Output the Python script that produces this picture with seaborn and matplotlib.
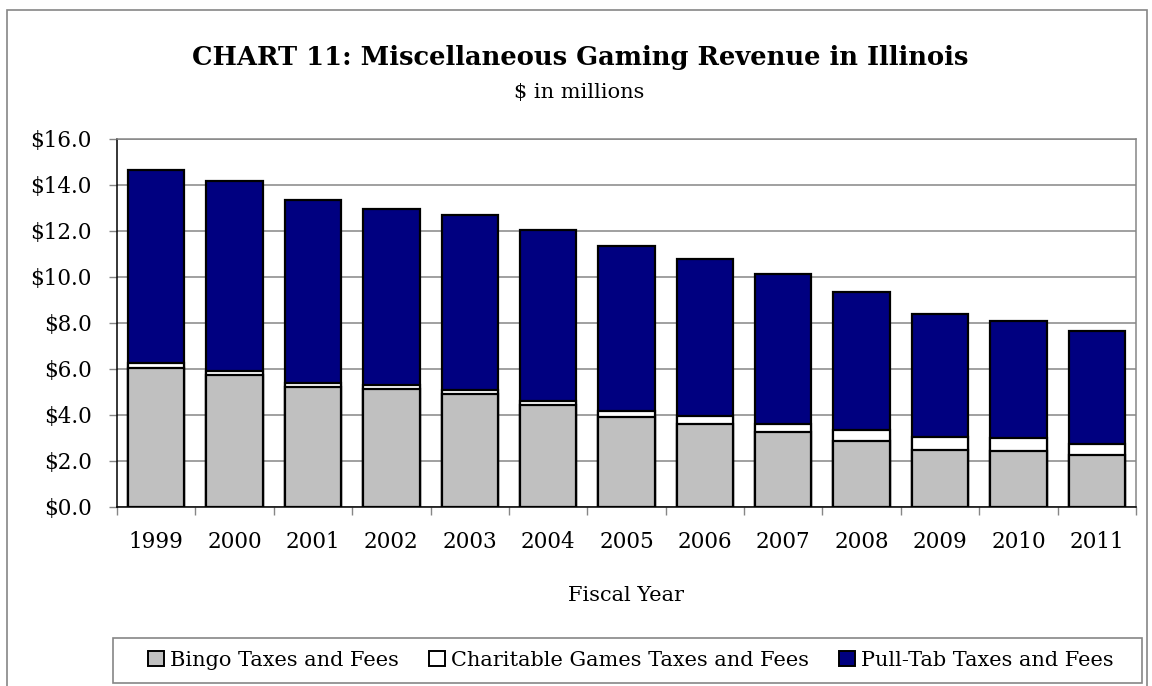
import matplotlib
matplotlib.use("Agg")
import matplotlib.pyplot as plt
from matplotlib.patches import Rectangle, Patch
from matplotlib.ticker import FixedLocator, FuncFormatter
import pandas as pd
import seaborn as sns

# Fiscal-year revenue, $ millions
years = ["1999", "2000", "2001", "2002", "2003", "2004", "2005",
         "2006", "2007", "2008", "2009", "2010", "2011"]
bingo = [6.06, 5.73, 5.21, 5.12, 4.91, 4.42, 3.90, 3.61, 3.25, 2.87, 2.49, 2.44, 2.26]
charitable = [0.20, 0.17, 0.17, 0.18, 0.16, 0.20, 0.28, 0.36, 0.36, 0.48, 0.55, 0.55, 0.47]
pull_tab = [8.40, 8.27, 7.97, 7.64, 7.61, 7.44, 7.17, 6.82, 6.53, 5.98, 5.35, 5.09, 4.94]

series_names = ["Bingo Taxes and Fees", "Charitable Games Taxes and Fees",
                "Pull-Tab Taxes and Fees"]
series_colors = ["#c0c0c0", "#ffffff", "#000080"]

df = pd.DataFrame({"year": years, "bingo": bingo,
                   "charitable": charitable, "pull_tab": pull_tab})
# cumulative heights for stacking (drawn tallest first)
df["lvl1"] = df["bingo"]
df["lvl2"] = df["bingo"] + df["charitable"]
df["lvl3"] = df["lvl2"] + df["pull_tab"]

sns.set_theme(style="white")
plt.rcParams["font.family"] = ["DejaVu Serif"]
plt.rcParams["text.color"] = "black"
plt.rcParams["xtick.color"] = "black"
plt.rcParams["ytick.color"] = "black"
plt.rcParams["axes.labelcolor"] = "black"

W, H = 1152, 686
fig = plt.figure(figsize=(W / 100, H / 100), dpi=100)

# outer chart border
fig.patches.append(Rectangle((7 / W, -0.02), (1147 - 7) / W, 1 - 10 / H + 0.02,
                             transform=fig.transFigure, fill=False,
                             edgecolor="#868686", linewidth=1.2))

left, right, top, bottom = 117, 1136, 139, 507
ax = fig.add_axes([left / W, 1 - bottom / H, (right - left) / W, (bottom - top) / H])

grid_gray = "#868686"
for col, color in zip(["lvl3", "lvl2", "lvl1"], series_colors[::-1]):
    sns.barplot(data=df, x="year", y=col, color=color, saturation=1, width=0.72,
                edgecolor="black", linewidth=1.6, ax=ax)

ax.set_ylim(0, 16)
ax.set_xlim(-0.5, len(years) - 0.5)
ax.yaxis.set_major_locator(FixedLocator([0, 2, 4, 6, 8, 10, 12, 14, 16]))
ax.yaxis.set_major_formatter(FuncFormatter(lambda v, p: f"${v:.1f}"))
ax.yaxis.grid(True, color=grid_gray, linewidth=1.1)
ax.set_axisbelow(True)
ax.set_xlabel("")
ax.set_ylabel("")

ax.xaxis.set_minor_locator(FixedLocator([i - 0.5 for i in range(len(years) + 1)]))
ax.tick_params(axis="x", which="major", length=0, pad=17, labelsize=15.5,
               labelcolor="black")
ax.tick_params(axis="x", which="minor", length=6, width=1, color=grid_gray, bottom=True)
ax.tick_params(axis="y", which="major", length=6, width=1, color=grid_gray, left=True,
               pad=12, labelsize=15.5, labelcolor="black")

for side in ["left", "bottom"]:
    ax.spines[side].set_color("black")
    ax.spines[side].set_linewidth(1.1)
for side in ["top", "right"]:
    ax.spines[side].set_color(grid_gray)
    ax.spines[side].set_linewidth(1.1)

# titles
fig.text(580 / W, 1 - 65 / H, "CHART 11: Miscellaneous Gaming Revenue in Illinois",
         ha="center", va="baseline", fontsize=18.5, fontweight="bold", color="black")
fig.text(579 / W, 1 - 98 / H, "$ in millions", ha="center", va="baseline", fontsize=15,
         color="black")
fig.text((left + right) / 2 / W, 1 - 601 / H, "Fiscal Year", ha="center",
         va="baseline", fontsize=15, color="black")

# legend box and entries
fig.patches.append(Rectangle((113 / W, 1 - 683 / H), (1142 - 113) / W, 45 / H,
                             transform=fig.transFigure, fill=False,
                             edgecolor="#868686", linewidth=1.2))
handles = [Patch(facecolor=c, edgecolor="black", linewidth=1.4) for c in series_colors]
leg = fig.legend(handles, series_names, loc="center",
                 bbox_to_anchor=(631 / W, 1 - 660.5 / H),
                 ncol=3, frameon=False, fontsize=15, handlelength=0.75,
                 handleheight=0.75, handletextpad=0.3, columnspacing=1.45)
for t in leg.get_texts():
    t.set_color("black")

fig.savefig("out.png", dpi=100)
